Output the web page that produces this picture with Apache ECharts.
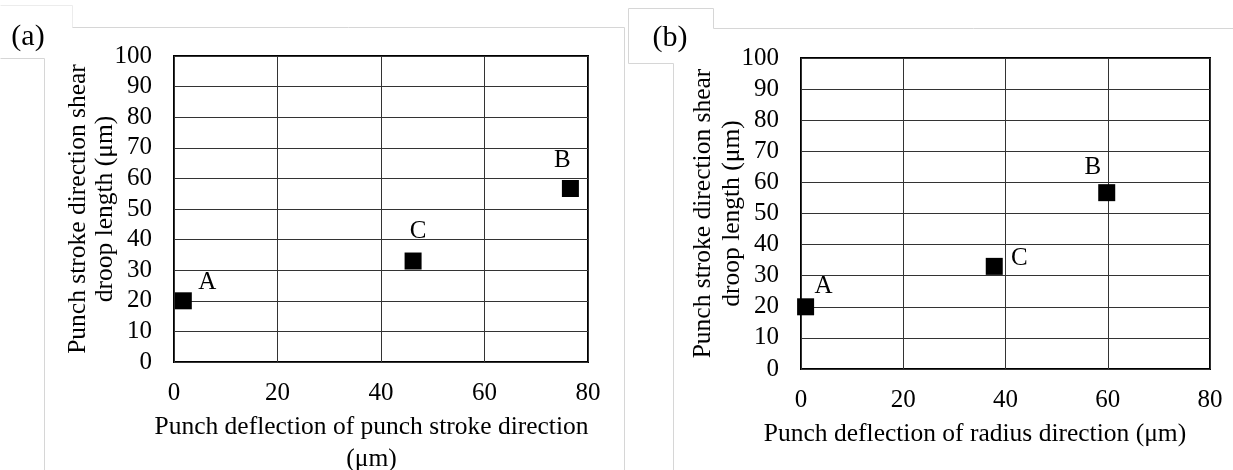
<!DOCTYPE html>
<html>
<head>
<meta charset="utf-8">
<title>Shear droop length vs punch deflection</title>
<script src="https://cdn.jsdelivr.net/npm/echarts@6/dist/echarts.min.js"></script>
<style>
  html, body { margin: 0; padding: 0; background: #fff; }
  #chart { width: 1233px; height: 470px; }
</style>
</head>
<body>
<div id="chart"></div>
<script>
// Measured points A, B, C
const pointNames = ['A', 'B', 'C'];
const strokeDeflection = [1.8, 76.6, 46.2];   // μm, panel (a) x
const radiusDeflection = [0.9, 59.8, 37.8];   // μm, panel (b) x
const droopLength = [20, 56.7, 33];           // μm, y in both panels

const xAxisMin = 0, xAxisMax = 80, xAxisStep = 20;
const yAxisMin = 0, yAxisMax = 100, yAxisStep = 10;

const panelTags = ['(a)', '(b)'];
const yTitle = 'Punch stroke direction shear\ndroop length (μm)';
const xTitles = ['Punch deflection of punch stroke direction\n(μm)',
                 'Punch deflection of radius direction (μm)'];

// label placement around each marker (pixels)
const labelShift = [
  { A: [24, -18], B: [-8, -28], C: [5, -30] },
  { A: [18, -20], B: [-14, -25], C: [25, -8] }
];

const FONT = '"Liberation Serif", "Times New Roman", serif';
const TICK_SIZE = 25;
const TITLE_SIZE = 25.5;

function pointsFor(xs, panel) {
  return pointNames.map((n, i) => ({
    name: n,
    value: [xs[i], droopLength[i]],
    label: { offset: labelShift[panel][n] }
  }));
}

function xAxisFor(gridIndex, title, gap, pad) {
  return {
    type: 'value', gridIndex,
    min: xAxisMin, max: xAxisMax, interval: xAxisStep,
    axisLine: { show: false }, axisTick: { show: false },
    splitLine: { show: true, lineStyle: { color: '#333', width: 1 } },
    axisLabel: { color: '#000', fontFamily: FONT, fontSize: TICK_SIZE, margin: 19 },
    name: title, nameLocation: 'middle', nameGap: gap,
    nameTextStyle: { color: '#000', fontFamily: FONT, fontSize: TITLE_SIZE, lineHeight: 32, padding: pad }
  };
}

function yAxisFor(gridIndex, gap, lh) {
  return {
    type: 'value', gridIndex,
    min: yAxisMin, max: yAxisMax, interval: yAxisStep,
    axisLine: { show: false }, axisTick: { show: false },
    splitLine: { show: true, lineStyle: { color: '#333', width: 1 } },
    axisLabel: { color: '#000', fontFamily: FONT, fontSize: TICK_SIZE, margin: 22 },
    name: yTitle, nameLocation: 'middle', nameGap: gap, nameMoveOverlap: false,
    nameTextStyle: { color: '#000', fontFamily: FONT, fontSize: TITLE_SIZE, lineHeight: lh }
  };
}

function scatterFor(xs, panel) {
  return {
    type: 'scatter', xAxisIndex: panel, yAxisIndex: panel,
    symbol: 'rect', symbolSize: 17,
    itemStyle: { color: '#000', opacity: 1 },
    label: {
      show: true, position: 'inside', formatter: '{b}',
      color: '#000', fontFamily: FONT, fontSize: TICK_SIZE
    },
    data: pointsFor(xs, panel),
    z: 5
  };
}

// faint page frame lines
const frameColor = '#d6d6d6';
const frameSegs = [
  [0, 5, 72, 5], [72, 5, 72, 27], [72, 27, 624, 27], [624, 27, 624, 470],
  [0, 58, 44, 58], [44, 58, 44, 470],
  [628, 8, 713, 8], [628, 8, 628, 63], [713, 8, 713, 28], [713, 28, 1233, 28],
  [628, 63, 673, 63], [673, 63, 673, 470]
];

const chart = echarts.init(document.getElementById('chart'), null, { renderer: 'canvas' });
chart.setOption({
  backgroundColor: '#fff',
  animation: false,
  grid: [
    { left: 174, right: 645, top: 56, bottom: 108, outerBoundsMode: 'none', containLabel: false,
      show: true, borderColor: '#000', borderWidth: 2, backgroundColor: 'transparent' },
    { left: 801, right: 23, top: 58, bottom: 101, outerBoundsMode: 'none', containLabel: false,
      show: true, borderColor: '#000', borderWidth: 2, backgroundColor: 'transparent' }
  ],
  xAxis: [
    xAxisFor(0, xTitles[0], 47, [0, 19, 0, 0]),
    xAxisFor(1, xTitles[1], 46, [0, 61, 0, 0])
  ],
  yAxis: [
    yAxisFor(0, 55.5, 27),
    yAxisFor(1, 54.5, 29)
  ],
  series: [
    scatterFor(strokeDeflection, 0),
    scatterFor(radiusDeflection, 1)
  ],
  graphic: frameSegs.map(s => ({
    type: 'line', silent: true, z: -1,
    shape: { x1: s[0] + 0.5, y1: s[1] + 0.5, x2: s[2] + 0.5, y2: s[3] + 0.5 },
    style: { stroke: s[1] === 5 ? '#ececec' : frameColor, lineWidth: 1 }
  })).concat([
    { type: 'text', x: 28, y: 37, silent: true,
      style: { text: panelTags[0], font: '30px ' + FONT, fill: '#000', align: 'center', verticalAlign: 'middle' } },
    { type: 'text', x: 670, y: 38, silent: true,
      style: { text: panelTags[1], font: '30px ' + FONT, fill: '#000', align: 'center', verticalAlign: 'middle' } }
  ])
});
</script>
</body>
</html>
